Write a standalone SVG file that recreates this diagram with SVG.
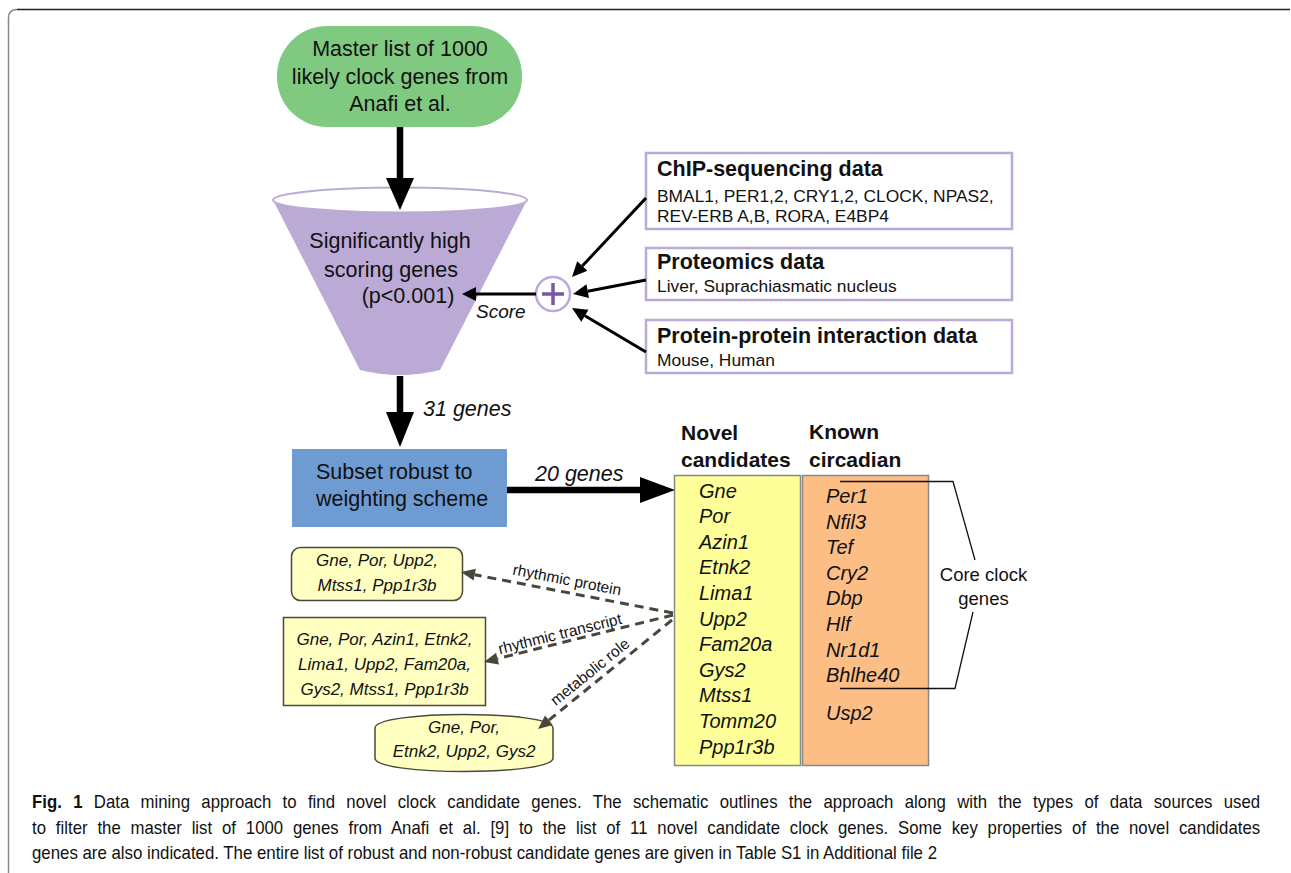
<svg xmlns="http://www.w3.org/2000/svg" width="1291" height="873" viewBox="0 0 1291 873">
<style>
text{font-family:"Liberation Sans",Arial,sans-serif;fill:#111}
.big{font-size:21.5px}
.bh{font-size:21.5px;font-weight:bold}
.bs{font-size:17.4px}
.it{font-style:italic}
.gl{font-size:20px;font-style:italic}
.nd{font-size:17px;font-style:italic}
.lbl{font-size:15.5px}
.hd{font-size:21px;font-weight:bold}
.cap{font-size:18.5px}
.lav{fill:#fff;stroke:#bcaad6;stroke-width:2.5}
.thick{stroke:#000;stroke-width:6.5;fill:none}
.thin{stroke:#000;stroke-width:3;fill:none}
.dash{stroke:#47473a;stroke-width:3;stroke-dasharray:9 6;fill:none}
.node{fill:#ffffc2;stroke:#4a4a3a;stroke-width:1.5}
</style>
<path d="M8.5,873 L8.5,18 Q8.5,9.5 17,9.5" fill="none" stroke="#888" stroke-width="1.5"/>
<path d="M17,9.5 L1290,9.5" fill="none" stroke="#222" stroke-width="1.5"/>

<g id="master">
<rect x="277" y="26" width="245" height="101" rx="50" fill="#80c980"/>
<text class="big" x="400" y="56" text-anchor="middle">Master list of 1000</text>
<text class="big" x="400" y="84" text-anchor="middle">likely clock genes from</text>
<text class="big" x="400" y="111" text-anchor="middle">Anafi et al.</text>
</g>

<g id="funnel">
<path d="M273,200 L360,370 Q400,380 440,370 L527,200 Z" fill="#bbaad5"/>
<ellipse cx="400" cy="200" rx="127" ry="12.5" fill="#fff" stroke="#bbaad5" stroke-width="2"/>
<text class="big" x="390" y="248" text-anchor="middle">Significantly high</text>
<text class="big" x="391" y="277" text-anchor="middle">scoring genes</text>
<text class="big" x="408" y="303" text-anchor="middle">(p&lt;0.001)</text>
</g>

<g id="plus">
<circle cx="553" cy="294" r="17" fill="#fff" stroke="#bcaad6" stroke-width="2.5"/>
<path d="M542,294 H564 M553,283 V305" stroke="#7a55a8" stroke-width="3.5"/>
</g>

<g id="chip">
<rect class="lav" x="646" y="153" width="366" height="76"/>
<text class="bh" x="657" y="176">ChIP-sequencing data</text>
<text class="bs" x="657" y="202">BMAL1, PER1,2, CRY1,2, CLOCK, NPAS2,</text>
<text class="bs" x="657" y="222">REV-ERB A,B, RORA, E4BP4</text>
</g>
<g id="proteomics">
<rect class="lav" x="646" y="248" width="366" height="52"/>
<text class="bh" x="657" y="269">Proteomics data</text>
<text class="bs" x="657" y="292">Liver, Suprachiasmatic nucleus</text>
</g>
<g id="ppi">
<rect class="lav" x="646" y="320" width="366" height="53"/>
<text class="bh" x="657" y="343">Protein-protein interaction data</text>
<text class="bs" x="657" y="366">Mouse, Human</text>
</g>

<g id="subset">
<rect x="292" y="449" width="215" height="78" fill="#6f9bd3"/>
<text class="big" x="316" y="479">Subset robust to</text>
<text class="big" x="316" y="506">weighting scheme</text>
</g>

<g id="novel">
<text class="hd" x="681" y="440">Novel</text>
<text class="hd" x="681" y="467">candidates</text>
<rect x="674.5" y="475.5" width="126" height="290" fill="#ffff99" stroke="#888" stroke-width="1.5"/>
<text class="gl" x="699" y="497.5">Gne</text>
<text class="gl" x="699" y="523">Por</text>
<text class="gl" x="699" y="548.7">Azin1</text>
<text class="gl" x="699" y="574.3">Etnk2</text>
<text class="gl" x="699" y="599.9">Lima1</text>
<text class="gl" x="699" y="625.5">Upp2</text>
<text class="gl" x="699" y="651.1">Fam20a</text>
<text class="gl" x="699" y="676.7">Gys2</text>
<text class="gl" x="699" y="702.3">Mtss1</text>
<text class="gl" x="699" y="727.9">Tomm20</text>
<text class="gl" x="699" y="753.5">Ppp1r3b</text>
</g>

<g id="known">
<text class="hd" x="809" y="439">Known</text>
<text class="hd" x="809" y="467">circadian</text>
<rect x="802.5" y="475.5" width="126" height="290" fill="#fdbe86" stroke="#888" stroke-width="1.5"/>
<text class="gl" x="826" y="503">Per1</text>
<text class="gl" x="826" y="528.6">Nfil3</text>
<text class="gl" x="826" y="554.2">Tef</text>
<text class="gl" x="826" y="579.8">Cry2</text>
<text class="gl" x="826" y="605.4">Dbp</text>
<text class="gl" x="826" y="631">Hlf</text>
<text class="gl" x="826" y="656.6">Nr1d1</text>
<text class="gl" x="826" y="682.2">Bhlhe40</text>
<text class="gl" x="826" y="720">Usp2</text>
</g>

<g id="core">
<path d="M840,481.5 H953 L975,560 M973,612 L955,688.5 H840" fill="none" stroke="#111" stroke-width="1.3"/>
<text x="983.5" y="581" text-anchor="middle" style="font-size:18.5px">Core clock</text>
<text x="983.5" y="605" text-anchor="middle" style="font-size:18.5px">genes</text>
</g>

<g id="protein-node">
<rect class="node" x="291.5" y="547.5" width="171" height="53" rx="9"/>
<text class="nd" x="377" y="566" text-anchor="middle">Gne, Por, Upp2,</text>
<text class="nd" x="377" y="591" text-anchor="middle">Mtss1, Ppp1r3b</text>
</g>
<g id="transcript-node">
<rect class="node" x="283.5" y="617.5" width="202" height="88"/>
<text class="nd" x="384.5" y="645" text-anchor="middle">Gne, Por, Azin1, Etnk2,</text>
<text class="nd" x="384.5" y="670" text-anchor="middle">Lima1, Upp2, Fam20a,</text>
<text class="nd" x="384.5" y="695" text-anchor="middle">Gys2, Mtss1, Ppp1r3b</text>
</g>
<g id="metabolic-node">
<path class="node" d="M375,728 C375,710 553,710 553,728 L553,758 C553,776 375,776 375,758 Z"/>
<text class="nd" x="464" y="733" text-anchor="middle">Gne, Por,</text>
<text class="nd" x="464" y="757" text-anchor="middle">Etnk2, Upp2, Gys2</text>
</g>

<g id="connectors">
<line class="thick" x1="400" y1="127" x2="400" y2="180"/>
<polygon points="386,178 414,178 400,210"/>
<line class="thick" x1="400" y1="376" x2="400" y2="414"/>
<polygon points="386,412 414,412 400,447"/>
<line class="thick" x1="507" y1="490" x2="642" y2="490"/>
<polygon points="640,477 640,503 675,490"/>
<line class="thin" x1="536" y1="294" x2="474" y2="294"/>
<polygon points="476,287 476,301 462,294"/>
<line class="thin" x1="646" y1="198" x2="582.3" y2="266"/>
<polygon points="587.4,270.8 577.2,261.3 572,277"/>
<line class="thin" x1="646" y1="280" x2="587.7" y2="291.2"/>
<polygon points="589,298.1 586.4,284.3 573,294"/>
<line class="thin" x1="646" y1="352" x2="584.9" y2="315.7"/>
<polygon points="588.5,309.7 581.3,321.7 572,308"/>
<line class="dash" x1="673" y1="613" x2="474.7" y2="574.7"/>
<polygon points="475.9,568.8 473.6,580.6 461,572" fill="#47473a"/>
<line class="dash" x1="673" y1="615" x2="497.6" y2="658.6"/>
<polygon points="499,664.4 496.1,652.8 484,662" fill="#47473a"/>
<line class="dash" x1="672" y1="620" x2="548.9" y2="720.2"/>
<polygon points="552.7,724.9 545.1,715.5 538,729" fill="#47473a"/>
<text class="big it" x="423" y="416">31 genes</text>
<text class="big it" x="535" y="481">20 genes</text>
<text class="it" x="476" y="318" style="font-size:19px">Score</text>
<text class="lbl" transform="translate(567,580) rotate(11)" x="0" y="5" text-anchor="middle">rhythmic protein</text>
<text class="lbl" transform="translate(560,634) rotate(-14)" x="0" y="5" text-anchor="middle">rhythmic transcript</text>
<text class="lbl" transform="translate(590,672) rotate(-39)" x="0" y="5" text-anchor="middle">metabolic role</text>
</g>

<g id="caption">
<text class="cap" transform="translate(32,808) scale(0.905,1)" x="0" y="0" style="word-spacing:7.4px" textLength="1357" lengthAdjust="spacing"><tspan font-weight="bold">Fig. 1</tspan> Data mining approach to find novel clock candidate genes. The schematic outlines the approach along with the types of data sources used</text>
<text class="cap" transform="translate(32,834) scale(0.905,1)" x="0" y="0" style="word-spacing:5.7px" textLength="1357" lengthAdjust="spacing">to filter the master list of 1000 genes from Anafi et al. [9] to the list of 11 novel candidate clock genes. Some key properties of the novel candidates</text>
<text class="cap" transform="translate(32,859) scale(0.905,1)" x="0" y="0" textLength="1000" lengthAdjust="spacingAndGlyphs">genes are also indicated. The entire list of robust and non-robust candidate genes are given in Table S1 in Additional file 2</text>
</g>
</svg>
